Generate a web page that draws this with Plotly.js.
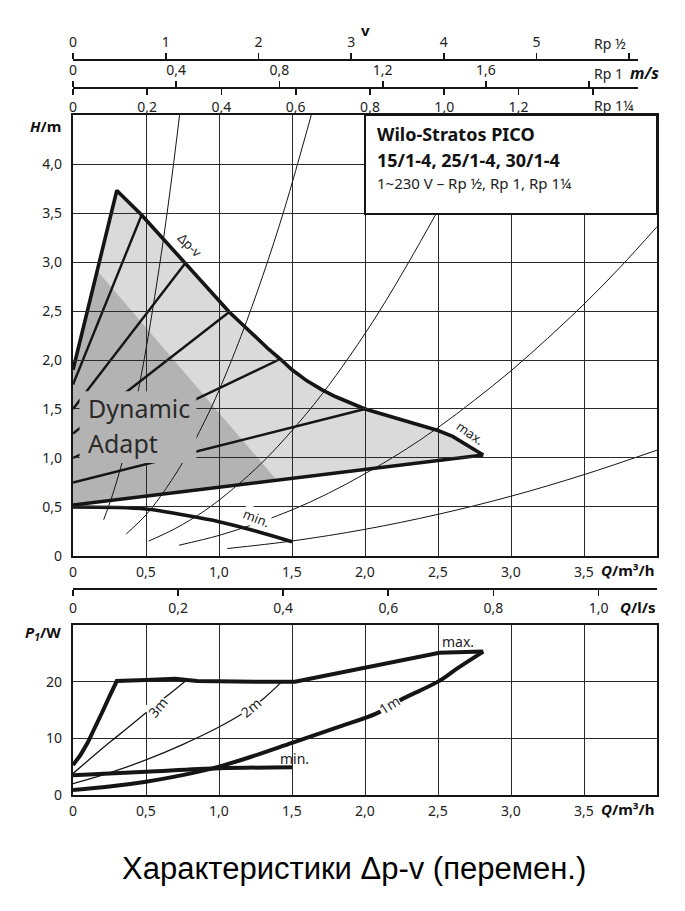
<!DOCTYPE html>
<html><head><meta charset="utf-8">
<script src="https://cdn.plot.ly/plotly-3.0.1.min.js"></script>
<style>html,body{margin:0;padding:0;background:#fff}</style>
</head><body>
<div id="chart" style="width:685px;height:911px"></div>
<script>
// ---------- tick labels ----------
const Q_TICKS = [0, 0.5, 1, 1.5, 2, 2.5, 3, 3.5];
const Q_TICK_TEXT = ['0', '0,5', '1,0', '1,5', '2,0', '2,5', '3,0', '3,5'];
const H_TICKS = [0, 0.5, 1, 1.5, 2, 2.5, 3, 3.5, 4];
const H_TICK_TEXT = ['0', '0,5', '1,0', '1,5', '2,0', '2,5', '3,0', '3,5', '4,0'];
const P_TICKS = [0, 10, 20];
const P_TICK_TEXT = ['0', '10', '20'];
const V12_TICKS = [0, 1, 2, 3, 4, 5];
const V12_TEXT = ['0', '1', '2', '3', '4', '5'];
const V12_END = [6];
const V1_TICKS = [0, 0.4, 0.8, 1.2, 1.6];
const V1_TEXT = ['0', '0,4', '0,8', '1,2', '1,6'];
const V1_END = [2.0];
const V114_TICKS = [0, 0.2, 0.4, 0.6, 0.8, 1.0, 1.2];
const V114_TEXT = ['0', '0,2', '0,4', '0,6', '0,8', '1,0', '1,2'];
const V114_END = [1.4];
const QLS_TICKS = [0, 0.2, 0.4, 0.6, 0.8, 1.0];
const QLS_TEXT = ['0', '0,2', '0,4', '0,6', '0,8', '1,0'];

// ---------- H chart: envelope ----------
const maxQ = [0, 0.30, 0.47, 0.77, 1.07, 1.17, 1.26, 1.34, 1.42, 1.50, 1.60, 1.70, 1.80, 1.90, 2.00, 2.25, 2.50, 2.60, 2.70, 2.81];
const maxH = [1.90, 3.73, 3.48, 2.99, 2.49, 2.35, 2.22, 2.11, 2.01, 1.90, 1.79, 1.70, 1.625, 1.56, 1.50, 1.39, 1.28, 1.22, 1.13, 1.03];
const baseQ = [2.81, 0];
const baseH = [1.03, 0.52];
const minQ = [0, 0.5, 0.75, 1.0, 1.25, 1.5];
const minH = [0.50, 0.48, 0.42, 0.35, 0.255, 0.145];
// dark "Dynamic Adapt" zone
const darkQ = [0, 0, 0.166, 1.395];
const darkH = [0.52, 1.90, 2.91, 0.775];

// Δp-v set-point lines
const dpv35Q = [0, 0.47], dpv35H = [1.75, 3.48];
const dpv30Q = [0, 0.77], dpv30H = [1.50, 2.99];
const dpv25Q = [0, 1.07], dpv25H = [1.25, 2.49];
const dpv20Q = [0, 1.42], dpv20H = [1.00, 2.01];
const dpv15Q = [0, 2.00], dpv15H = [0.75, 1.50];

// system curves (thin)
const sysAQ = [0.21, 0.27, 0.33, 0.39, 0.45, 0.50, 0.56, 0.62, 0.68, 0.73];
const sysAH = [0.37, 0.62, 0.92, 1.28, 1.71, 2.11, 2.65, 3.24, 3.90, 4.50];
const sysBQ = [0.365, 0.50, 0.60, 0.75, 0.90, 1.00, 1.15, 1.30, 1.45, 1.632];
const sysBH = [0.225, 0.42, 0.61, 0.95, 1.37, 1.69, 2.24, 2.86, 3.55, 4.50];
const sysCQ = [0.518, 0.70, 0.90, 1.10, 1.30, 1.50, 1.70, 1.90, 2.10, 2.30, 2.49];
const sysCH = [0.152, 0.28, 0.46, 0.69, 0.96, 1.28, 1.64, 2.05, 2.50, 3.00, 3.50];
const sysDQ = [0.726, 1.00, 1.25, 1.50, 1.75, 2.00, 2.25, 2.50, 2.75, 3.00, 3.25, 3.50, 3.75, 4.00];
const sysDH = [0.11, 0.21, 0.33, 0.47, 0.64, 0.84, 1.06, 1.31, 1.59, 1.89, 2.22, 2.57, 2.95, 3.36];
const sysEQ = [1.057, 1.5, 2.0, 2.5, 3.0, 3.5, 4.0];
const sysEH = [0.076, 0.153, 0.272, 0.425, 0.61, 0.83, 1.08];

// ---------- P1 chart ----------
const pMaxQ = [0, 0.05, 0.10, 0.15, 0.20, 0.25, 0.30, 0.50, 0.70, 0.85, 1.00, 1.25, 1.52, 2.00, 2.51, 2.81];
const pMaxP = [5.3, 7.0, 9.2, 11.8, 14.6, 17.4, 20.1, 20.3, 20.5, 20.1, 20.0, 20.0, 20.0, 22.5, 25.1, 25.3];
const p1mQ = [0, 0.25, 0.5, 0.75, 1.0, 1.25, 1.5, 1.83, 2.08, 2.26, 2.5, 2.63, 2.81];
const p1mP = [0.9, 1.5, 2.35, 3.5, 5.0, 7.0, 9.2, 12.1, 14.4, 17.0, 20.0, 22.3, 25.3];
const pMinQ = [0, 0.5, 1.0, 1.5];
const pMinP = [3.5, 4.1, 4.7, 4.9];
const p3mQ = [0, 0.1, 0.2, 0.3, 0.4, 0.5, 0.6, 0.7, 0.77];
const p3mP = [3.8, 6.0, 8.2, 10.3, 12.4, 14.5, 16.6, 18.6, 20.1];
const p2mQ = [0, 0.25, 0.5, 0.75, 1.0, 1.15, 1.3, 1.43];
const p2mP = [2.0, 3.9, 6.2, 8.9, 12.0, 14.2, 16.9, 20.0];

// ---------- styling ----------
const BLACK = '#151515';
const LIGHT = '#dadada';
const DARK = '#b3b3b3';
const FONT = 'Noto Sans, Open Sans, sans-serif';

function line(x, y, w, xa, ya, shape) {
  return {x: x, y: y, xaxis: xa || 'x', yaxis: ya || 'y', mode: 'lines', type: 'scatter',
    line: {color: BLACK, width: w, shape: shape || 'linear'}, hoverinfo: 'skip', showlegend: false};
}
function pathOf(xs, ys) {
  let s = '';
  for (let i = 0; i < xs.length; i++) s += (i ? ' L ' : 'M ') + xs[i] + ',' + ys[i];
  return s + ' Z';
}
const envQ = maxQ.concat(baseQ.slice(1));
const envH = maxH.concat(baseH.slice(1));

const traces = [
  line(sysAQ, sysAH, 1, 'x', 'y', 'spline'),
  line(sysBQ, sysBH, 1, 'x', 'y', 'spline'),
  line(sysCQ, sysCH, 1, 'x', 'y', 'spline'),
  line(sysDQ, sysDH, 1, 'x', 'y', 'spline'),
  line(sysEQ, sysEH, 1, 'x', 'y', 'spline'),
  line(dpv35Q, dpv35H, 2.4), line(dpv30Q, dpv30H, 2.4), line(dpv25Q, dpv25H, 2.4),
  line(dpv20Q, dpv20H, 2.4), line(dpv15Q, dpv15H, 2.4),
  line(minQ, minH, 3.6, 'x', 'y', 'spline'),
  line(maxQ, maxH, 3.6),
  line(baseQ, baseH, 3.6),
  // P1 chart
  line(p3mQ, p3mP, 1.3, 'x2', 'y2', 'spline'),
  line(p2mQ, p2mP, 1.3, 'x2', 'y2', 'spline'),
  line(pMinQ, pMinP, 4, 'x2', 'y2', 'spline'),
  line(p1mQ, p1mP, 4, 'x2', 'y2', 'spline'),
  line(pMaxQ, pMaxP, 4, 'x2', 'y2'),
];
// carrier traces for the extra scales
['x3', 'x4', 'x5', 'x6'].forEach(a => traces.push({x: [null], y: [null], xaxis: a, yaxis: 'y',
  mode: 'lines', type: 'scatter', hoverinfo: 'skip', showlegend: false}));

const tickFont = {family: FONT, size: 14, color: '#222'};
const gridBase = {showgrid: true, gridcolor: '#2a2a2a', gridwidth: 1, zeroline: false,
  showline: true, linecolor: BLACK, linewidth: 2.2, mirror: true, ticks: '', tickfont: tickFont, fixedrange: true};

function topAxis(range, pos, side, vals, text, endVals, domainEnd) {
  const ax = {anchor: 'free', position: pos, side: side, domain: [0, domainEnd], range: range,
    tickmode: 'array', tickvals: vals, ticktext: text, ticks: 'outside', ticklen: 6, tickwidth: 1.8,
    tickcolor: BLACK, showline: true, linecolor: BLACK, linewidth: 2, showgrid: false, zeroline: false,
    tickfont: tickFont, fixedrange: true};
  if (endVals) ax.minor = {tickmode: 'array', tickvals: endVals, ticks: 'outside', ticklen: 6, tickwidth: 1.8, tickcolor: BLACK, showgrid: false};
  return ax;
}
const dEnd = 0.9675;            // scales stop at Q ≈ 3.87
const qEnd = 3.87;

function pa(text, x, y, xanchor, font) {
  return {xref: 'paper', yref: 'paper', x: x, y: y, xanchor: xanchor, yanchor: 'middle', text: text, showarrow: false, font: font};
}
const boldName = {family: FONT, size: 15, color: '#111'};

const layout = {
  width: 685, height: 911,
  margin: {l: 73, r: 28, t: 20, b: 116},
  paper_bgcolor: '#fff', plot_bgcolor: 'rgba(0,0,0,0)',
  font: {family: FONT, color: '#1a1a1a'},
  showlegend: false, hovermode: false,
  xaxis: Object.assign({}, gridBase, {domain: [0, 1], range: [0, 4], anchor: 'y',
    tickmode: 'array', tickvals: Q_TICKS, ticktext: Q_TICK_TEXT, ticklabelstandoff: 2}),
  yaxis: Object.assign({}, gridBase, {domain: [0.3084, 0.8774], range: [0, 4.5], anchor: 'x',
    tickmode: 'array', tickvals: H_TICKS, ticktext: H_TICK_TEXT, ticklabelstandoff: 6}),
  xaxis2: Object.assign({}, gridBase, {domain: [0, 1], range: [0, 4], anchor: 'y2',
    tickmode: 'array', tickvals: Q_TICKS, ticktext: Q_TICK_TEXT, ticklabelstandoff: 2}),
  yaxis2: Object.assign({}, gridBase, {domain: [0, 0.2194], range: [0, 30], anchor: 'x2',
    tickmode: 'array', tickvals: P_TICKS, ticktext: P_TICK_TEXT, ticklabelstandoff: 6}),
  xaxis3: topAxis([0, qEnd * 6 / 3.81], 0.9484, 'top', V12_TICKS, V12_TEXT, V12_END, dEnd),
  xaxis4: topAxis([0, qEnd * 2.0 / 3.536], 0.9123, 'top', V1_TICKS, V1_TEXT, V1_END, dEnd),
  xaxis5: topAxis([0, qEnd * 1.4 / 3.56], 0.9123, 'bottom', V114_TICKS, V114_TEXT, V114_END, dEnd),
  xaxis6: topAxis([0, 4 / 3.6], 0.2658, 'bottom', QLS_TICKS, QLS_TEXT, null, 1),
  shapes: [
    {type: 'path', xref: 'x', yref: 'y', layer: 'below', path: pathOf(envQ, envH), fillcolor: LIGHT, line: {width: 0}},
    {type: 'path', xref: 'x', yref: 'y', layer: 'below', path: pathOf(darkQ, darkH), fillcolor: DARK, line: {width: 0}},
    // mask behind "Dynamic Adapt"
    {type: 'rect', xref: 'x', yref: 'y', layer: 'above', x0: 0.045, x1: 0.845, y0: 0.95, y1: 1.68, fillcolor: DARK, line: {width: 0}},
    // product box
    {type: 'rect', xref: 'x', yref: 'y', layer: 'above', x0: 2.0, x1: 4.0, y0: 3.49, y1: 4.5, fillcolor: '#fff', line: {color: BLACK, width: 2}},
  ],
  annotations: [
    {xref: 'x', yref: 'y', x: 0.089, y: 1.507, xanchor: 'left', yanchor: 'middle', text: 'Dynamic', showarrow: false, font: {family: FONT, size: 25, color: '#2a2a2a'}},
    {xref: 'x', yref: 'y', x: 0.089, y: 1.148, xanchor: 'left', yanchor: 'middle', text: 'Adapt', showarrow: false, font: {family: FONT, size: 25, color: '#2a2a2a'}},
    {xref: 'x', yref: 'y', x: 0.80, y: 3.17, text: 'Δp-v', textangle: 45, showarrow: false, bgcolor: '#fff', borderpad: 0, font: {family: FONT, size: 13, color: '#222'}},
    {xref: 'x', yref: 'y', x: 2.72, y: 1.25, text: 'max.', textangle: 35, showarrow: false, font: {family: FONT, size: 13, color: '#222'}},
    {xref: 'x', yref: 'y', x: 1.26, y: 0.39, text: 'min.', textangle: 22, showarrow: false, bgcolor: '#fff', borderpad: 0, font: {family: FONT, size: 13, color: '#222'}},
    {xref: 'x', yref: 'y', x: 2.068, y: 4.31, xanchor: 'left', yanchor: 'middle', text: '<b>Wilo-Stratos PICO</b>', showarrow: false, font: {family: FONT, size: 18, color: '#111'}},
    {xref: 'x', yref: 'y', x: 2.068, y: 4.045, xanchor: 'left', yanchor: 'middle', text: '<b>15/1-4, 25/1-4, 30/1-4</b>', showarrow: false, font: {family: FONT, size: 18, color: '#111'}},
    {xref: 'x', yref: 'y', x: 2.068, y: 3.81, xanchor: 'left', yanchor: 'middle', text: '1~230 V – Rp ½, Rp 1, Rp 1¼', showarrow: false, font: {family: FONT, size: 15, color: '#222'}},
    // axis names
    pa('<b>v</b>', 0.5, 0.987, 'center', boldName),
    pa('Rp ½', 0.8887, 0.9703, 'left', tickFont),
    pa('Rp 1', 0.8887, 0.9316, 'left', tickFont),
    pa('<b><i>m/s</i></b>', 0.9503, 0.9316, 'left', {family: FONT, size: 16, color: '#111'}),
    pa('Rp 1¼', 0.8887, 0.8903, 'left', tickFont),
    pa('<b><i>H</i>/m</b>', -0.0171, 0.8632, 'right', boldName),
    pa('<b><i>Q</i>/m³/h</b>', 1.0, 0.2903, 'right', boldName),
    pa('<b><i>Q</i>/l/s</b>', 1.0, 0.2426, 'right', boldName),
    pa('<b><i>P<sub>1</sub></i>/W</b>', -0.0171, 0.209, 'right', boldName),
    pa('<b><i>Q</i>/m³/h</b>', 1.0, -0.018, 'right', boldName),
    // P1 chart labels
    {xref: 'x2', yref: 'y2', x: 0.578, y: 15.5, text: '3m', textangle: -50, showarrow: false, bgcolor: '#fff', borderpad: 0, font: {family: FONT, size: 14, color: '#222'}},
    {xref: 'x2', yref: 'y2', x: 1.217, y: 15.5, text: '2m', textangle: -40, showarrow: false, bgcolor: '#fff', borderpad: 0, font: {family: FONT, size: 14, color: '#222'}},
    {xref: 'x2', yref: 'y2', x: 2.17, y: 15.9, text: '1m', textangle: -32, showarrow: false, bgcolor: '#fff', borderpad: 0, font: {family: FONT, size: 14, color: '#222'}},
    {xref: 'x2', yref: 'y2', x: 1.514, y: 6.4, text: 'min.', showarrow: false, font: {family: FONT, size: 14, color: '#222'}},
    {xref: 'x2', yref: 'y2', x: 2.64, y: 27.1, text: 'max.', showarrow: false, font: {family: FONT, size: 14, color: '#222'}},
    // title
    pa('Характеристики Δp-v (перемен.)', 0.481, -0.0942, 'center', {family: 'Liberation Sans, Arial, sans-serif', size: 31, color: '#000'}),
  ]
};

Plotly.newPlot('chart', traces, layout, {staticPlot: true, displayModeBar: false});
</script>
</body></html>
